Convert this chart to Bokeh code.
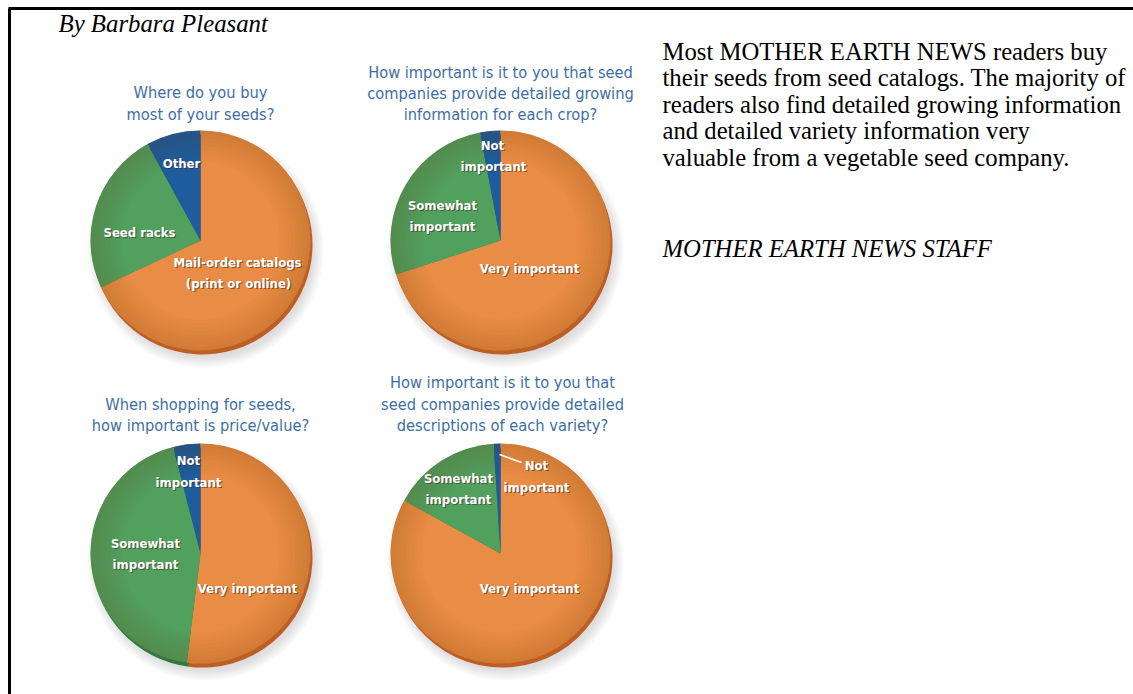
import math
from bokeh.plotting import figure
from bokeh.models import Range1d, ColumnDataSource
from bokeh.core.properties import value
from bokeh.embed import file_html
from bokeh.resources import INLINE

# ---------------- data ----------------
pie_titles = [
    ["Where do you buy", "most of your seeds?"],
    ["How important is it to you that seed", "companies provide detailed growing", "information for each crop?"],
    ["When shopping for seeds,", "how important is price/value?"],
    ["How important is it to you that", "seed companies provide detailed", "descriptions of each variety?"],
]
pie1_labels = ["Mail-order catalogs (print or online)", "Seed racks", "Other"]
pie1_values = [68, 24, 8]
pie2_labels = ["Very important", "Somewhat important", "Not important"]
pie2_values = [70, 27, 3]
pie3_labels = ["Very important", "Somewhat important", "Not important"]
pie3_values = [52, 44, 4]
pie4_labels = ["Very important", "Somewhat important", "Not important"]
pie4_values = [83, 16, 1]

byline = "By Barbara Pleasant"
body_lines = [
    "Most MOTHER EARTH NEWS readers buy",
    "their seeds from seed catalogs. The majority of",
    "readers also find detailed growing information",
    "and detailed variety information very",
    "valuable from a vegetable seed company.",
]
credit = "MOTHER EARTH NEWS STAFF"

# ---------------- layout / style ----------------
W, H = 1133, 694
def Y(py):
    return H - py

colors = ["#E98C45", "#52A05E", "#1E5C9E"]
rim_colors = ["#BE5E25", "#2F7A3F", "#123F70"]
title_color = "#3D6EA6"
COND = "DejaVu Sans Condensed, Roboto Condensed, Liberation Sans Narrow, Roboto"

p = figure(width=W, height=H, x_range=Range1d(0, W), y_range=Range1d(0, H),
           output_backend="svg", toolbar_location=None, min_border=0)
p.axis.visible = False
p.grid.visible = False
p.outline_line_color = None
p.background_fill_color = "white"
p.border_fill_color = "white"

# frame lines
p.segment(x0=[8], y0=[Y(8)], x1=[W], y1=[Y(8)], line_color="black", line_width=3)
p.segment(x0=[9], y0=[Y(8)], x1=[9], y1=[0], line_color="black", line_width=3)

pies = [
    (pie1_values, 200, 240),
    (pie2_values, 500, 240),
    (pie3_values, 200, 553),
    (pie4_values, 500, 553),
]
R = 110

for vals, cx, cy in pies:
    # soft drop shadow
    for k in range(6):
        p.circle(x=[cx + 5], y=[Y(cy + 9)], radius=R + 8 - k * 2,
                 fill_color="#808080", fill_alpha=0.05, line_color=None)
    tot = float(sum(vals))
    cum = [0.0]
    for v in vals:
        cum.append(cum[-1] + v / tot)
    starts = [math.pi / 2 - 2 * math.pi * c for c in cum[:-1]]
    ends = [math.pi / 2 - 2 * math.pi * c for c in cum[1:]]
    # 3D rim
    src_rim = ColumnDataSource(dict(x=[cx + 2] * len(vals), y=[Y(cy + 4)] * len(vals),
                                    s=starts, e=ends, c=rim_colors[:len(vals)]))
    p.wedge(x="x", y="y", radius=R, start_angle="s", end_angle="e", direction="clock",
            fill_color="c", line_color=None, source=src_rim)
    src = ColumnDataSource(dict(x=[cx] * len(vals), y=[Y(cy)] * len(vals),
                                s=starts, e=ends, c=colors[:len(vals)]))
    p.wedge(x="x", y="y", radius=R, start_angle="s", end_angle="e", direction="clock",
            fill_color="c", line_color=None, source=src)
    # smooth edge shading
    for k in range(8):
        p.annulus(x=[cx], y=[Y(cy)], inner_radius=R * (0.72 + k * 0.035), outer_radius=R,
                  fill_color="#6a2a00", fill_alpha=0.018, line_color=None)

# pie titles
title_pos = [(200, 92, 22), (500, 72, 21), (200, 404, 21), (502, 382, 21.5)]
for lines, (tx, ty, dy) in zip(pie_titles, title_pos):
    p.text(x=[tx] * len(lines), y=[Y(ty + i * dy) for i in range(len(lines))], text=lines,
           text_font=value(COND), text_font_size="16.3px", text_color=title_color,
           text_align="center", text_baseline="middle")

# slice labels (text, x, y)
slice_labels = [
    ("Other", 181, 163), ("Seed racks", 139, 232),
    ("Mail-order catalogs", 237, 262), ("(print or online)", 238, 283),
    ("Not", 492, 145), ("important", 493, 166),
    ("Somewhat", 442, 205), ("important", 442, 226), ("Very important", 529, 268),
    ("Not", 188, 460), ("important", 188, 482),
    ("Somewhat", 145, 543), ("important", 145, 564), ("Very important", 247, 588),
    ("Not", 536, 465), ("important", 536, 487),
    ("Somewhat", 458, 478), ("important", 458, 499), ("Very important", 529, 588),
]
lt = [s[0] for s in slice_labels]
lx = [s[1] for s in slice_labels]
ly = [Y(s[2]) for s in slice_labels]
p.text(x=[v + 1.2 for v in lx], y=[v - 1.2 for v in ly], text=lt,
       text_font=value(COND), text_font_size="13px", text_font_style="bold",
       text_color="#3a2a1a", text_alpha=0.55, text_align="center", text_baseline="middle")
p.text(x=lx, y=ly, text=lt,
       text_font=value(COND), text_font_size="13px", text_font_style="bold",
       text_color="white", text_align="center", text_baseline="middle")

# leader line for the "Not important" slice of pie 4
p.segment(x0=[499], y0=[Y(454)], x1=[521], y1=[Y(462)], line_color="white", line_width=1.5)

# byline
p.text(x=[58], y=[Y(23)], text=[byline], text_font=value("Liberation Serif"),
       text_font_size="24.8px", text_font_style="italic", text_color="black",
       text_align="left", text_baseline="middle")

# body text
p.text(x=[662] * len(body_lines), y=[Y(51 + i * 26.4) for i in range(len(body_lines))],
       text=body_lines, text_font=value("Liberation Serif"), text_font_size="24.7px",
       text_color="black", text_align="left", text_baseline="middle")
p.text(x=[662], y=[Y(248)], text=[credit], text_font=value("Liberation Serif"),
       text_font_size="24.7px", text_font_style="italic", text_color="black",
       text_align="left", text_baseline="middle")

open("out.html", "w").write(file_html(p, INLINE))
